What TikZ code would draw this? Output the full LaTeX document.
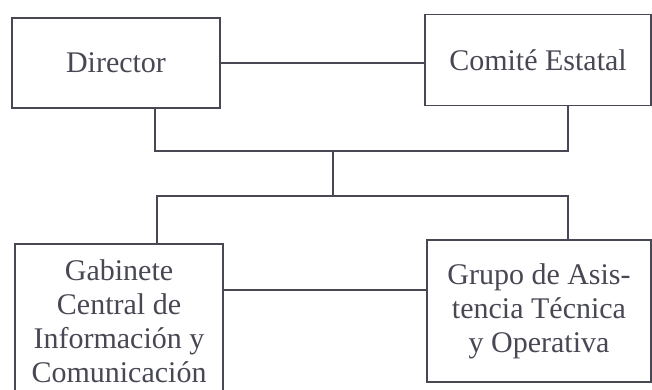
\documentclass[tikz,border=0pt]{standalone}
\usepackage{fontspec}
\setmainfont{Liberation Serif}
\usetikzlibrary{positioning,calc}
\definecolor{ink}{RGB}{72,72,84}
\tikzset{
    unit/.style = {rectangle,
                    fill=white,
                    draw=ink,
                    text=ink,
                    line width=1.1pt,
                    align=center,
                    inner sep=0pt,
                    font=\fontsize{30}{34}\selectfont},
    link/.style = {draw=ink,
                    line width=1.1pt},
    -,
    node distance=2cm}
\begin{document}
\begin{tikzpicture}[x=1pt,y=-1pt]
                \useasboundingbox (0,0) rectangle (652,389);
                \clip (0,0) rectangle (652,389);
                \node[unit,minimum width=208pt,minimum height=90pt]   (dir) at (116,63)                                     {Director};
                \node[unit,minimum width=226pt,minimum height=91pt]   (com) [right of=dir,node distance=422pt,yshift=3pt]  {Comité Estatal};
                \node[unit,minimum width=208pt,minimum height=154pt]  (gab) [below of=dir,node distance=258pt,xshift=3pt]  {Gabinete\\Central de\\Información y\\Comunicación};
                \node[unit,minimum width=224pt,minimum height=142pt]  (gru) [right of=gab,node distance=420pt,yshift=10pt] {Grupo de Asis-\\tencia Técnica\\y Operativa};

                \coordinate (jt) at (333,151);
                \coordinate (jb) at (333,196);

                \path [link]    (dir.east) -- (dir.east -| com.west)
                                ([xshift=39pt]dir.south) |- (jt) -| ([xshift=30pt]com.south)
                                (jt) -- (jb)
                                ([xshift=38pt]gab.north) |- (jb) -| ([xshift=29pt]gru.north)
                                ([yshift=31pt]gab.east) -- ([yshift=31pt]gab.east -| gru.west);
        \end{tikzpicture}
\end{document}
